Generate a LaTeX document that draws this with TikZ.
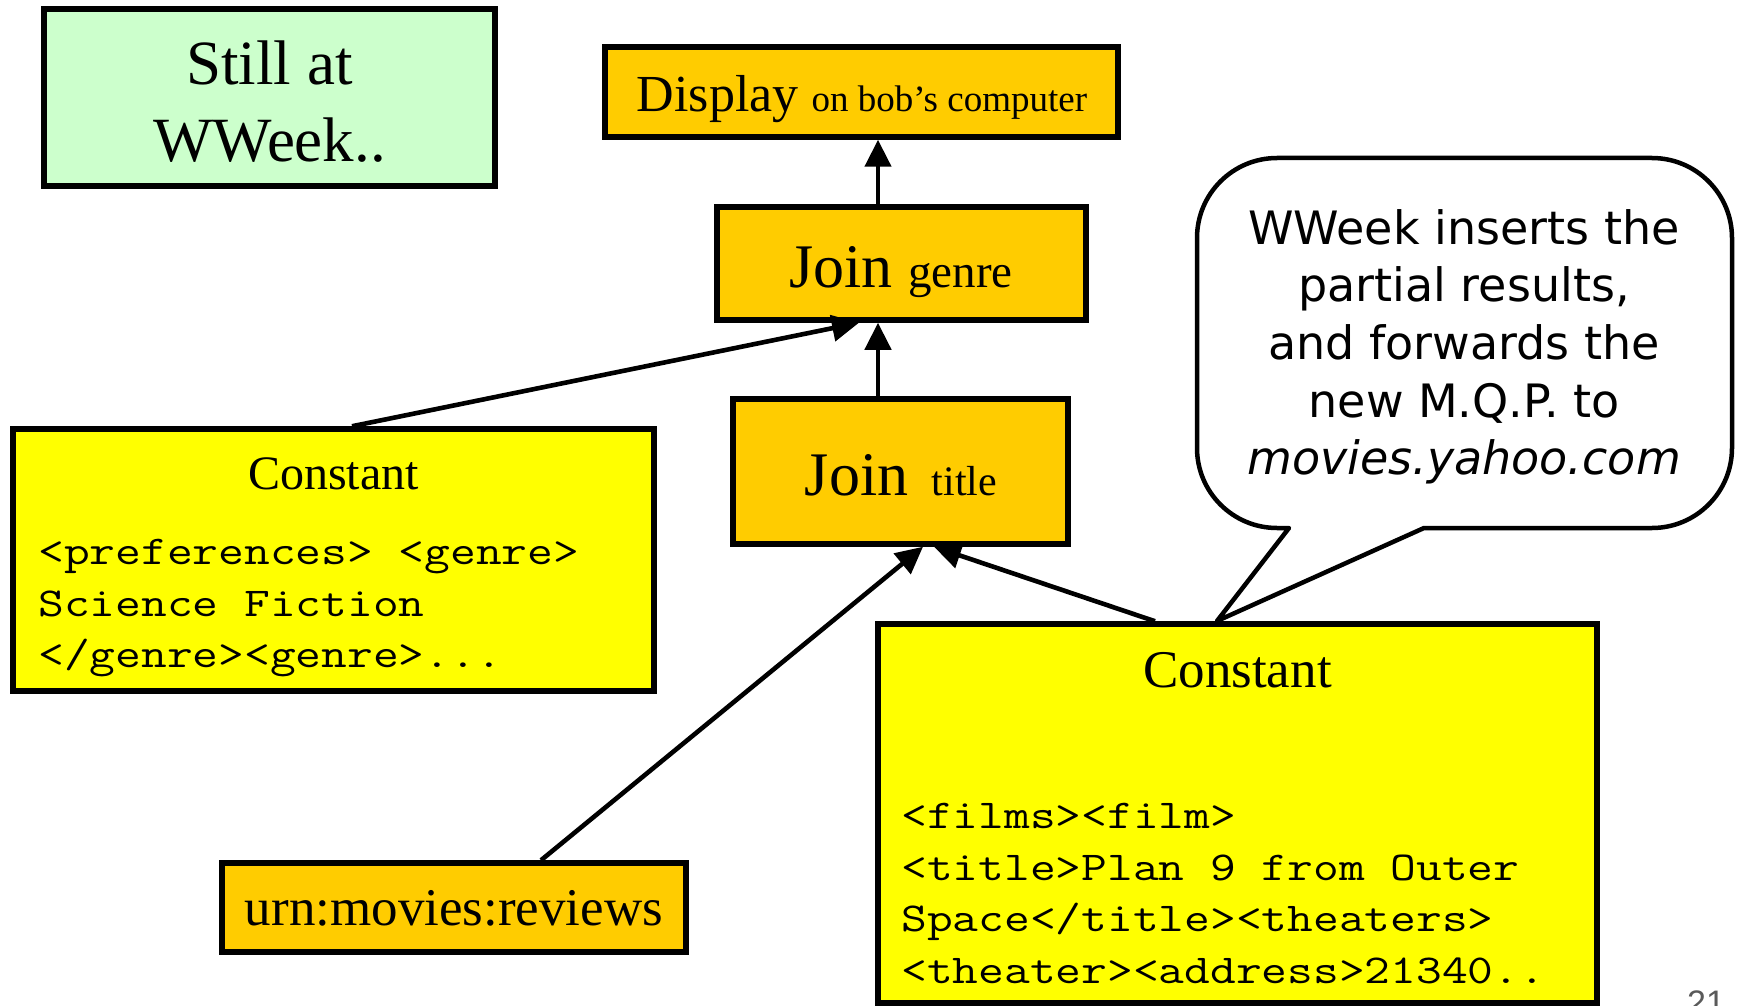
\documentclass[tikz,border=0pt]{standalone}
\usepackage{fontspec}
\setmainfont{Liberation Serif}
\newfontfamily\calloutfont{DejaVu Sans}
\newfontfamily\numfont{Liberation Sans}
\usetikzlibrary{arrows.meta,calc}

\definecolor{gold}{HTML}{FFCC00}
\definecolor{lemon}{HTML}{FFFF00}
\definecolor{mint}{HTML}{CCFFCC}
\definecolor{pagegray}{HTML}{5A5A5A}

\newcommand\fs[2]{\fontsize{#1}{#2}\selectfont}

\begin{document}
\begin{tikzpicture}[x=1pt,y=-1pt,
  framed/.style={draw=black,line width=5.5pt,inner sep=0pt,rectangle},
  stillbox/.style={framed,fill=mint},
  opbox/.style={framed,fill=gold},
  constbox/.style={framed,fill=lemon},
  link/.style={line width=4.6pt,-{Triangle[length=27pt,width=26pt]}},
  txt/.style={inner sep=0pt,anchor=base},
  codeline/.style={inner sep=0pt,anchor=base west,font=\ttfamily\fs{41}{50},
    xscale=1.22,transform shape},
  bubbletxt/.style={inner sep=0pt,anchor=base,font=\calloutfont\fs{46}{57.6}},
  bubble/.style={draw=black,fill=white,line width=4.5pt,line join=round}
]
\useasboundingbox (0,0) rectangle (1738,1006);
\fill[white] (0,0) rectangle (1738,1006);
\clip (0,0) rectangle (1738,1006);

% ---- boxes ----
\node[stillbox, minimum width=451pt, minimum height=177pt] (still) at (269.5,97.5) {};
\node[opbox, minimum width=513pt, minimum height=90pt] (disp) at (861.5,92) {};
\node[opbox, minimum width=369pt, minimum height=113pt] (genre) at (901.5,263.5) {};
\node[opbox, minimum width=335pt, minimum height=145pt] (title) at (900.5,471.5) {};
\node[constbox, minimum width=641pt, minimum height=262pt] (cleft) at (333.5,560) {};
\node[constbox, minimum width=719pt, minimum height=379pt] (cright) at (1237.5,813.5) {};
\node[opbox, minimum width=464pt, minimum height=89pt] (urn) at (454,907.5) {};

% ---- box texts ----
\node[txt, font=\fs{63}{75}] (still1) at (269.5,85) {Still at};
\node[txt, font=\fs{63}{75}] (still2) at (269.5,161) {WWeek..};

\node[txt] (disptxt) at (862,112) {\fs{52}{60}Display \fs{37}{44}on bob’s computer};
\node[txt] (genretxt) at (901,287) {\fs{62}{70}Join \fs{47}{54}genre};
\node[txt] (titletxt) at (901,495) {\fs{62}{70}Join\hspace{8pt} \fs{42}{50}title};

\node[txt, font=\fs{48}{56}] (clefthead) at (333.5,489) {Constant};
\node[codeline] (cl1) at (38,564) {<preferences> <genre>};
\node[codeline] (cl2) at (38,616) {Science Fiction};
\node[codeline] (cl3) at (38,667) {</genre><genre>...};

\node[txt, font=\fs{53}{60}] (crighthead) at (1237.5,687) {Constant};
\node[codeline] (cr1) at (901,828) {<films><film>};
\node[codeline] (cr2) at (901,880) {<title>Plan 9 from Outer};
\node[codeline] (cr3) at (901,931) {Space</title><theaters>};
\node[codeline] (cr4) at (901,983) {<theater><address>21340..};

\node[txt, font=\fs{53}{60}] (urntxt) at (454,925) {urn:movies:reviews};

% ---- connectors ----
\coordinate (xa) at (878,0);
\coordinate (xb) at (352,0);
\coordinate (xc) at (859,0);
\coordinate (xd) at (541,0);
\coordinate (xe) at (923,0);
\coordinate (xf) at (1155,0);
\coordinate (xg) at (934,0);
\draw[link] (genre.north -| xa) -- (disp.south -| xa);
\draw[link] (title.north -| xa) -- (genre.south -| xa);
\draw[link] (cleft.north -| xb) -- (genre.south -| xc);
\draw[link] (urn.north -| xd) -- (title.south -| xe);
\draw[link] (cright.north -| xf) -- (title.south -| xg);

% ---- speech bubble ----
\def\bl{1197}\def\br{1732}\def\bt{158}\def\bb{528}\def\rr{80}
\draw[bubble] (1289,\bb) -- (1217,621) -- (1424,\bb)
  -- (\br-\rr,\bb) arc[start angle=90,end angle=0,radius=\rr]
  -- (\br,\bt+\rr) arc[start angle=0,end angle=-90,radius=\rr]
  -- (\bl+\rr,\bt) arc[start angle=-90,end angle=-180,radius=\rr]
  -- (\bl,\bb-\rr) arc[start angle=180,end angle=90,radius=\rr]
  -- cycle;
\node[bubbletxt] (b1) at (1464,244) {WWeek inserts the};
\node[bubbletxt] (b2) at (1464,301) {partial results,};
\node[bubbletxt] (b3) at (1464,359) {and forwards the};
\node[bubbletxt] (b4) at (1464,417) {new M.Q.P. to};
\node[bubbletxt] (b5) at (1464,474) {\itshape movies.yahoo.com};

% ---- page number ----
\node[inner sep=0pt, anchor=base west, text=pagegray, font=\numfont\fs{34}{40}] (pnum) at (1687,1014) {21};
\end{tikzpicture}
\end{document}
